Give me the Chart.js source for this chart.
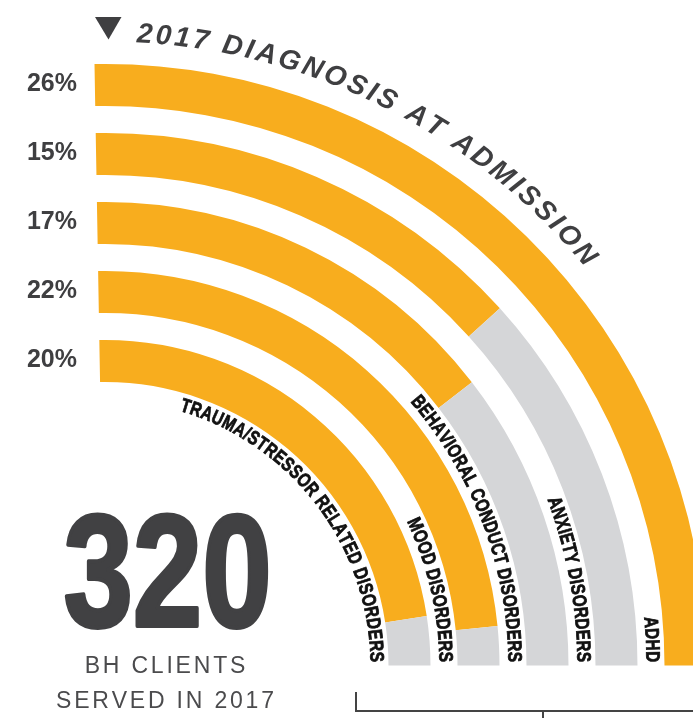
<!DOCTYPE html>
<html>
<head>
<meta charset="utf-8">
<script src="https://cdn.jsdelivr.net/npm/chart.js@4.4.1/dist/chart.umd.min.js"></script>
<style>
  html, body { margin: 0; padding: 0; background: #fff; overflow: hidden; }
  #wrap { position: relative; width: 720px; height: 718px; }
</style>
</head>
<body>
<div id="wrap"><canvas id="dChart" width="720" height="718"></canvas></div>
<script>
// rings listed from the outside in
const categories = ['ADHD', 'ANXIETY DISORDERS', 'BEHAVIORAL CONDUCT DISORDERS', 'MOOD DISORDERS', 'TRAUMA/STRESSOR RELATED DISORDERS'];
const percentLabels = ['26%', '15%', '17%', '22%', '20%'];
// share of the quarter arc that is orange
const arcShare = [1.0, 0.537, 0.586, 0.937, 0.904];
const titleText = '2017 DIAGNOSIS AT ADMISSION';
const totalClients = '320';
const subtitleLines = ['BH CLIENTS', 'SERVED IN 2017'];

const ORANGE = '#f8ad1e';
const GREY = '#d5d6d8';
const DARK = '#3f3f41';
const FONT = "'Liberation Sans', Arial, sans-serif";

const datasets = [];
categories.forEach((c, i) => {
  if (i > 0) {
    datasets.push({ label: 'gap', data: [1], backgroundColor: ['rgba(0,0,0,0)'], weight: 27 });
  }
  datasets.push({
    label: c,
    data: [arcShare[i], 1 - arcShare[i]],
    backgroundColor: [ORANGE, GREY],
    weight: 42
  });
});

// draws text along a circle, letters upright towards the outside, reading clockwise
function arcText(ctx, text, cx, cy, r, rAdv, startA, spacing, sx, stroke) {
  const widths = [...text].map(ch => ctx.measureText(ch).width * sx);
  let s = 0;
  [...text].forEach((ch, k) => {
    const a = startA + (s + widths[k] / 2) / rAdv;
    ctx.save();
    ctx.translate(cx + r * Math.cos(a), cy + r * Math.sin(a));
    ctx.rotate(a + Math.PI / 2);
    ctx.scale(sx, 1);
    ctx.fillText(ch, 0, 0);
    if (stroke) ctx.strokeText(ch, 0, 0);
    ctx.restore();
    s += widths[k] + spacing;
  });
}

function textLen(ctx, text, spacing, sx) {
  let w = 0;
  for (const ch of text) w += ctx.measureText(ch).width * sx;
  return w + spacing * (text.length - 1);
}

function spacedText(ctx, text, x, y, spacing) {
  const w = textLen(ctx, text, spacing, 1);
  let s = x - w / 2;
  ctx.textAlign = 'left';
  for (const ch of text) {
    ctx.fillText(ch, s, y);
    s += ctx.measureText(ch).width + spacing;
  }
}

const decorations = {
  id: 'decorations',
  afterDraw(chart) {
    const ctx = chart.ctx;
    const rings = [];
    chart.data.datasets.forEach((ds, i) => {
      if (ds.label !== 'gap') rings.push(chart.getDatasetMeta(i).data[0]);
    });
    const cx = rings[0].x, cy = rings[0].y;
    const deg = Math.PI / 180;

    ctx.save();
    ctx.textAlign = 'center';
    ctx.textBaseline = 'alphabetic';

    // title along the outer ring
    ctx.fillStyle = DARK;
    ctx.font = 'italic bold 28px ' + FONT;
    const tr = rings[0].outerRadius + 22.5;
    const tAdv = tr + 10;
    const tStart = (-90 + 2.9) * deg, tEnd = (-90 + 50.3) * deg;
    const base = textLen(ctx, titleText, 0, 1);
    const tSpacing = ((tEnd - tStart) * tAdv - base) / (titleText.length - 1);
    arcText(ctx, titleText, cx, cy, tr, tAdv, tStart, tSpacing, 1, false);

    // triangle marker
    ctx.beginPath();
    ctx.moveTo(cx - 10, cy - rings[0].outerRadius - 47);
    ctx.lineTo(cx + 16.5, cy - rings[0].outerRadius - 47);
    ctx.lineTo(cx + 3.5, cy - rings[0].outerRadius - 24.5);
    ctx.closePath();
    ctx.fill();

    // category names inside each ring
    ctx.fillStyle = '#111';
    ctx.strokeStyle = '#111';
    ctx.lineWidth = 0.8;
    ctx.font = 'bold 19.5px ' + FONT;
    rings.forEach((arc, i) => {
      const r = arc.innerRadius - 18;
      const rAdv = r + 7;
      const sp = i === 4 ? 0.7 : 0.5;
      const w = textLen(ctx, categories[i], sp, 0.78);
      const end = -3.5 / rAdv;
      arcText(ctx, categories[i], cx, cy, r, rAdv, end - w / rAdv, sp, 0.78, true);
    });

    // percentages at the start of each ring
    ctx.fillStyle = DARK;
    ctx.font = 'bold 25px ' + FONT;
    ctx.textAlign = 'right';
    ctx.textBaseline = 'middle';
    rings.forEach((arc, i) => {
      ctx.fillText(percentLabels[i], 77, cy - (arc.innerRadius + arc.outerRadius) / 2 - 1);
    });

    // big number
    ctx.textBaseline = 'alphabetic';
    ctx.save();
    ctx.translate(167.5, 626);
    ctx.scale(0.78, 1);
    ctx.textAlign = 'center';
    ctx.font = 'bold 160px ' + FONT;
    ctx.fillStyle = '#414143';
    ctx.strokeStyle = '#414143';
    ctx.lineWidth = 4;
    ctx.lineJoin = 'round';
    ctx.fillText(totalClients, 0, 0);
    ctx.strokeText(totalClients, 0, 0);
    ctx.restore();

    ctx.fillStyle = '#4b4b4d';
    ctx.font = '23px ' + FONT;
    spacedText(ctx, subtitleLines[0], 165, 673, 2.8);
    spacedText(ctx, subtitleLines[1], 165, 708, 2.8);

    // bracket at the bottom
    ctx.strokeStyle = '#444';
    ctx.lineWidth = 2;
    ctx.beginPath();
    ctx.moveTo(356, 692);
    ctx.lineTo(356, 711);
    ctx.lineTo(720, 711);
    ctx.moveTo(543, 711);
    ctx.lineTo(543, 718);
    ctx.stroke();

    ctx.restore();
  }
};

const config = {
  type: 'doughnut',
  data: { labels: ['diagnosed', 'rest'], datasets: datasets },
  options: {
    responsive: false,
    animation: false,
    events: [],
    rotation: -1,
    circumference: 91,
    cutout: '47.13%',
    layout: { padding: { left: 94.5, top: 64, right: 13.5, bottom: 52.5 } },
    elements: { arc: { borderWidth: 0 } },
    plugins: { legend: { display: false }, tooltip: { enabled: false } }
  },
  plugins: [decorations]
};

const myChart = new Chart(document.getElementById('dChart'), config);
</script>
</body>
</html>
